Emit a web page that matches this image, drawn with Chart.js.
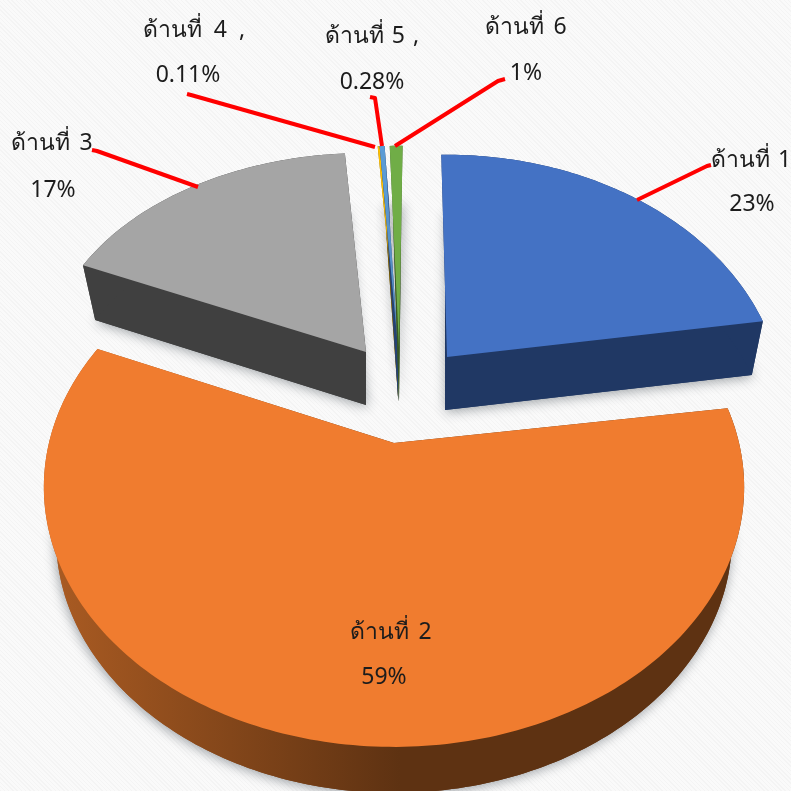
<!DOCTYPE html>
<html><head><meta charset="utf-8">
<style>
html,body{margin:0;padding:0;width:791px;height:791px;overflow:hidden;
background:repeating-linear-gradient(45deg,#f4f4f4 0,#f4f4f4 1px,#fafafa 1px,#fafafa 3px);}
canvas{display:block}
</style>
<script src="https://cdn.jsdelivr.net/npm/chart.js@4"></script>
</head><body><canvas id="c" width="791" height="791"></canvas>
<script>
const categories=['ด้านที่ 1','ด้านที่ 2','ด้านที่ 3','ด้านที่ 4 ,','ด้านที่ 5 ,','ด้านที่ 6'];
const shareValues=[23,59,17,0.11,0.28,1];
const shareLabels=['23%','59%','17%','0.11%','0.28%','1%'];
const topColors=['#4472c4','#f07c2f','#a5a5a5','#ffc000','#5b9bd5','#70ad47'];
const sideColors=['#203864','#5e3212','#404040','#7f6000','#264478','#385723'];

// Perspective layout of the exploded slices
const RX=343,RY=243,DEG=Math.PI/180;
const sliceGeom=[
 {ax:447,ay:357,fx:.96,fy:1,rot:0,p:.2016,px:447,py:445,sx:.9715,minx:445},
 {ax:394,ay:443,fx:1.006,fy:1.038,rot:.6,p:.17,px:394,py:394,sx:.965},
 {ax:366,ay:352,fx:.93,fy:.86,rot:2.2,p:.05,px:366,py:366,sx:.957},
 {ax:398,ay:348,fx:1,fy:1,rot:2.1,p:.2016,px:399,py:399,sx:.7},
 {ax:398,ay:348,fx:1,fy:1,rot:2.1,p:.2016,px:399,py:399,sx:.7},
 {ax:399,ay:348,fx:.72,fy:1,rot:2.2,p:.2016,px:399,py:399,sx:.7}
];
const drawOrder=[2,3,4,5,0,1];
const labelPos=[
 {x:751,x2:752,y1:160,y2:204,gap:2},{x:391,x2:384,y1:632,y2:677,gap:3},{x:52,x2:53,y1:143,y2:190,gap:3},
 {x:194,x2:188,y1:30,y2:75,gap:6},{x:372,x2:372,y1:36,y2:82,gap:2},{x:526,x2:526,y1:27,y2:73,gap:3}
];
const leaders=[
 [[637,200],[707,166],[711,165]],
 [[198,187],[97,151],[92,150]],
 [[375,147],[191,95],[187,94]],
 [[382,146],[375,98],[370,97]],
 [[395,146],[498,81],[505,79]]
];
const leaderColor='#ff0000';

function pt(g,theta){
 const t=theta+g.rot*DEG,u=Math.sin(t),v=-Math.cos(t),w=1-g.p*v;
 return [g.ax+RX*g.fx*u/w,g.ay+RY*g.fy*v/w];
}
function drop(g,p){
 let x=g.py+(p[0]-g.px)*g.sx;
 if(g.minx!==undefined)x=Math.max(g.minx,x);
 return [x,p[1]+53-.018*(p[1]-357)];
}
function rim(g,a0,a1){
 const n=Math.max(2,Math.ceil((a1-a0)/(1*DEG))),o=[];
 for(let i=0;i<=n;i++)o.push(pt(g,a0+(a1-a0)*i/n));
 return o;
}
function poly(ctx,pts){ctx.beginPath();pts.forEach((p,i)=>i?ctx.lineTo(p[0],p[1]):ctx.moveTo(p[0],p[1]));ctx.closePath();}

const pie3d={
 id:'pie3d',
 beforeDatasetsDraw(chart){
  const ctx=chart.ctx,arcs=chart.getDatasetMeta(0).data;
  const parts=arcs.map((arc,i)=>{
   const g=sliceGeom[i],a0=arc.startAngle+Math.PI/2,a1=arc.endAngle+Math.PI/2;
   const r=rim(g,a0,a1),apex=[g.ax,g.ay];
   const top=[apex,...r],bottom=top.map(p=>drop(g,p));
   return {i,g,r,apex,top,bottom};
  });
  const sideGrad=ctx.createLinearGradient(60,0,400,0);
  sideGrad.addColorStop(0,'#a85a22');sideGrad.addColorStop(1,sideColors[1]);
  drawOrder.forEach(i=>{
   const s=parts[i],g=s.g,fill=i===1?sideGrad:sideColors[i];
   // soft shadow from the lower face only
   ctx.save();
   ctx.shadowColor='rgba(40,50,60,.45)';ctx.shadowBlur=12;ctx.shadowOffsetX=i===1?-1:1;ctx.shadowOffsetY=2;
   ctx.fillStyle=fill;
   poly(ctx,s.bottom);ctx.fill();
   ctx.restore();
   // walls
   ctx.fillStyle=fill;ctx.strokeStyle=fill;ctx.lineWidth=.6;
   for(const a of [s.r[0],s.r[s.r.length-1]]){
    poly(ctx,[s.apex,a,drop(g,a),drop(g,s.apex)]);ctx.fill();
   }
   poly(ctx,[...s.r,...s.r.map(p=>drop(g,p)).reverse()]);ctx.fill();
   // top face
   ctx.fillStyle=topColors[i];
   poly(ctx,s.top);ctx.fill();
  });
  return false;
 },
 afterDraw(chart){
  const ctx=chart.ctx;
  ctx.save();
  ctx.strokeStyle=leaderColor;ctx.lineWidth=4;ctx.lineJoin='round';ctx.lineCap='butt';
  leaders.forEach(l=>{ctx.beginPath();l.forEach((p,i)=>i?ctx.lineTo(p[0],p[1]):ctx.moveTo(p[0],p[1]));ctx.stroke();});
  ctx.fillStyle='#1c1c1c';ctx.textAlign='center';ctx.textBaseline='middle';
  ctx.font='23px "Noto Sans", "DejaVu Sans", sans-serif';
  categories.forEach((c,i)=>{
   const p=labelPos[i];
   ctx.wordSpacing=p.gap+'px';
   ctx.fillText(c,p.x,p.y1);
   ctx.wordSpacing='0px';
   ctx.fillText(shareLabels[i],p.x2,p.y2);
  });
  ctx.restore();
 }
};

new Chart(document.getElementById('c'),{
 type:'pie',
 data:{labels:categories,datasets:[{data:shareValues,backgroundColor:topColors,borderWidth:0}]},
 options:{
  responsive:false,animation:false,rotation:-1.2,
  layout:{padding:0},
  plugins:{legend:{display:false},tooltip:{enabled:false}}
 },
 plugins:[pie3d]
});
</script></body></html>
